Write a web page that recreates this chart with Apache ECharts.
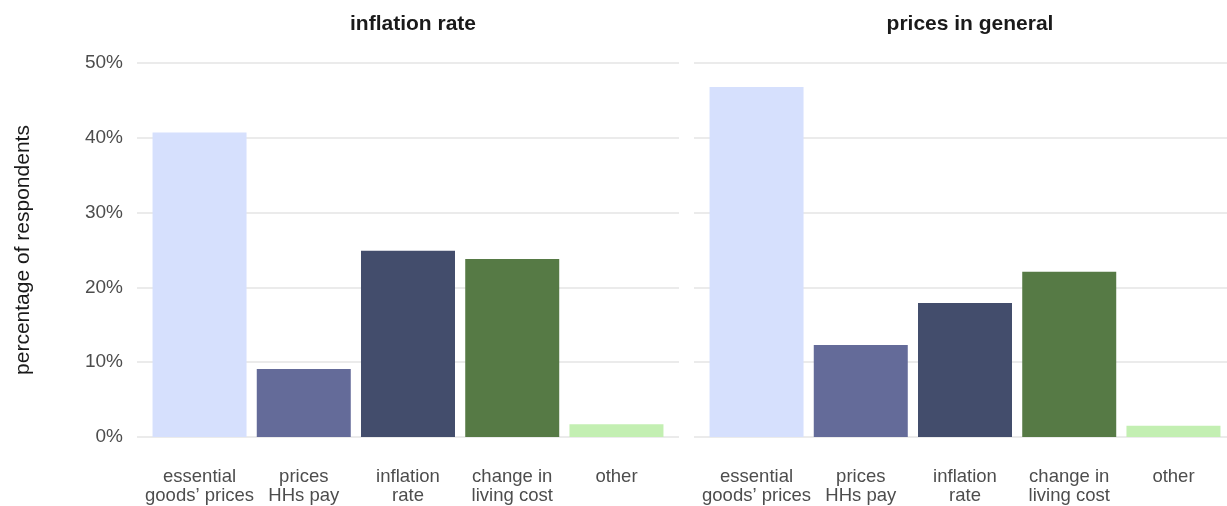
<!DOCTYPE html>
<html><head><meta charset="utf-8">
<script src="https://cdn.jsdelivr.net/npm/echarts@6/dist/echarts.min.js"></script>
<style>html,body{margin:0;padding:0;background:#fff}#c{width:1227px;height:506px}</style>
</head><body><div id="c"></div>
<script>
const categories = ["essential\ngoods’ prices", "prices\nHHs pay", "inflation\nrate", "change in\nliving cost", "other"];
const barColors = ["#d6e0fd", "#646b99", "#434d6c", "#567a45", "#c3efb2"];
const panelTitles = ["inflation rate", "prices in general"];
const inflationRateValues = [40.7, 9.1, 24.9, 23.8, 1.7];
const pricesInGeneralValues = [46.8, 12.3, 17.9, 22.1, 1.5];
const yTicks = [0, 10, 20, 30, 40, 50];

const FONT = "Liberation Sans, Arial, sans-serif";
const chart = echarts.init(document.getElementById('c'), null, {renderer: 'canvas'});
const panels = [inflationRateValues, pricesInGeneralValues];
const gridLefts = [137, 694];
const gridWidths = [542, 533];
const PX_PER_UNIT = 542 / 5.2;
const grids = [], xAxes = [], yAxes = [], series = [], titles = [];
panels.forEach((vals, i) => {
  grids.push({left: gridLefts[i], width: gridWidths[i], top: 63, bottom: 69, containLabel: false});
  xAxes.push({
    gridIndex: i, type: 'value', min: 0.4, max: 0.4 + gridWidths[i] / PX_PER_UNIT,
    axisLine: {show: false}, axisTick: {show: false}, splitLine: {show: false},
    axisLabel: {
      customValues: [1, 2, 3, 4, 5],
      formatter: v => categories[Math.round(v) - 1] || '',
      color: '#4d4d4d', fontSize: 18.5, fontFamily: FONT, lineHeight: 19.5, margin: 30
    }
  });
  yAxes.push({
    gridIndex: i, type: 'value', min: 0, max: 50, interval: 10,
    axisLine: {show: false}, axisTick: {show: false},
    splitLine: {lineStyle: {color: '#ebebeb', width: 2}},
    axisLabel: {show: i === 0, customValues: yTicks, formatter: v => v + '%', color: '#4d4d4d', fontSize: 19, fontFamily: FONT, margin: 14, padding: [3, 0, 0, 0]},
    name: i === 0 ? 'percentage of respondents' : '', nameLocation: 'middle', nameGap: 103,
    nameTextStyle: {color: '#1a1a1a', fontSize: 21, fontFamily: FONT}
  });
  series.push({
    type: 'bar', xAxisIndex: i, yAxisIndex: i, barWidth: 94,
    data: vals.map((v, k) => ({value: [k + 1, v], itemStyle: {color: barColors[k]}})),
    silent: true
  });
  titles.push({
    text: panelTitles[i], left: gridLefts[i] + 271, top: 9, textAlign: 'center',
    textStyle: {fontSize: 21, fontWeight: 'bold', color: '#1a1a1a', fontFamily: FONT}
  });
});
chart.setOption({
  animation: false,
  title: titles,
  grid: grids, xAxis: xAxes, yAxis: yAxes, series: series
});
</script></body></html>
